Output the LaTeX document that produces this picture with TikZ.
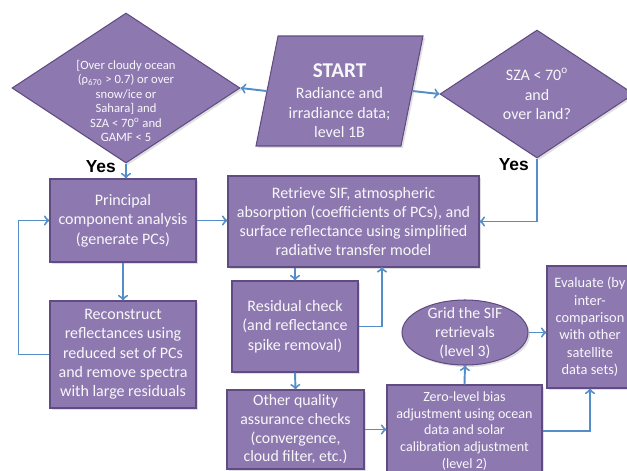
\documentclass[tikz,border=0pt]{standalone}
\usepackage{fontspec}
\setmainfont{Carlito}
\newfontfamily\yesfont{Liberation Sans}
\usetikzlibrary{arrows,shadows,shapes.geometric}

\definecolor{boxfill}{RGB}{141,121,176}
\definecolor{boxline}{RGB}{96,76,130}
\definecolor{flowline}{RGB}{84,141,200}
\colorlet{boxtext}{white!94!boxfill}

\tikzset{
  shade/.style={drop shadow={shadow xshift=0.4mm, shadow yshift=-0.4mm, opacity=0.25}},
  stepbox/.style={rectangle, draw=boxline, fill=boxfill, line width=0.6pt, shade,
    text=boxtext, align=center, inner sep=0pt, font=\fontsize{9.1}{11}\selectfont},
  decision/.style={diamond, draw=boxline, fill=boxfill, line width=0.6pt, shade,
    inner sep=0pt, text=boxtext, align=center, font=\fontsize{9.1}{11}\selectfont},
  flow/.style={->, draw=flowline, line width=1.1pt},
  yes/.style={font=\yesfont\bfseries\fontsize{9.9}{11}\selectfont},
}

\begin{document}
\begin{tikzpicture}[x=0.02cm, y=-0.02cm]
  \useasboundingbox (0,0) rectangle (627,471);

  % start and the two tests
  \node[stepbox, trapezium, trapezium left angle=76.7, trapezium right angle=103.3,
    trapezium stretches body, minimum width=3.34cm, minimum height=2.2cm]
    (start) at (339.5,91)
    {{\fontsize{12}{14}\selectfont\bfseries\rule{0pt}{19pt}START}\\[1pt]Radiance and\\irradiance data;\\level 1B};
  \node[decision, minimum width=4.56cm, minimum height=3cm] (cloud) at (126,88) {};
  \node[text=boxtext, align=center, font=\fontsize{7.2}{8.3}\selectfont] (cloudtxt) at (126,101)
    {[Over cloudy ocean\\(ρ\textsubscript{670} > 0.7) or over\\snow/ice or\\Sahara] and\\SZA < 70\textsuperscript{o} and\\GAMF < 5};
  \node[decision, minimum width=3.88cm, minimum height=2.56cm] (land) at (537,94)
    {SZA < 70\textsuperscript{o}\\and\\over land?};
  \node[yes, anchor=east] (yesl) at (122,167) {Yes};
  \node[yes, anchor=east] (yesr) at (535,165) {Yes};

  % processing steps
  \node[stepbox, minimum width=2.92cm, minimum height=1.66cm] (pca) at (123,220.5)
    {Principal\\component analysis\\(generate PCs)};
  \node[stepbox, minimum width=5.02cm, minimum height=1.82cm] (retrieve) at (353.5,221.5)
    {Retrieve SIF, atmospheric\\absorption (coefficients of PCs), and\\surface reflectance using simplified\\radiative transfer model};
  \node[stepbox, minimum width=2.92cm, minimum height=2.14cm] (recon) at (123,354.5)
    {Reconstruct\\reflectances using\\reduced set of PCs\\and remove spectra\\with large residuals};
  \node[stepbox, minimum width=2.52cm, minimum height=1.82cm] (resid) at (295,326.5)
    {Residual check\\(and reflectance\\spike removal)};
  \node[stepbox, minimum width=2.74cm, minimum height=1.58cm, font=\fontsize{9}{10.6}\selectfont]
    (other) at (295.5,429.5)
    {Other quality\\assurance checks\\(convergence,\\cloud filter, etc.)};
  \node[stepbox, minimum width=3.1cm, minimum height=1.84cm, font=\fontsize{8}{9.6}\selectfont]
    (zero) at (464.5,431)
    {Zero-level bias\\adjustment using ocean\\data and solar\\calibration adjustment\\(level 2)};
  \node[stepbox, ellipse, minimum width=2.52cm, minimum height=1.3cm] (grid) at (465,332.5) {};
  \node[text=boxtext, align=center, font=\fontsize{9}{11}\selectfont] (gridtxt) at (465,333)
    {Grid the SIF\\retrievals\\(level 3)};
  \node[stepbox, minimum width=1.72cm, minimum height=2.44cm, font=\fontsize{8.2}{9.9}\selectfont]
    (eval) at (590,327)
    {Evaluate (by\\inter-\\comparison\\with other\\satellite\\data sets)};

  \coordinate (rj) at (382,267);

  % connectors
  \draw[flow] (start.west) -- (cloud.east);
  \draw[flow] (start.east) -- (land.west);
  \draw[flow] (cloud.south) -- (cloud.south |- pca.north);
  \draw[flow] (land.south) |- (retrieve.east);
  \draw[flow] (pca.east) -- (pca.east -| retrieve.west);
  \draw[flow] (pca.south) -- (recon.north);
  \draw[flow] (recon.west) -- ++(-31,0) |- (pca.west);
  \draw[flow] (resid.north |- retrieve.south) -- (resid.north);
  \draw[flow] (resid.east) -| (rj);
  \draw[flow] (resid.south) -- (other.north);
  \draw[flow] (other.east) -- (other.east -| zero.west);
  \draw[flow] (zero.north) -- (grid.south);
  \draw[flow] (grid.east) -- (grid.east -| eval.west);
  \draw[flow] (zero.east) -| (eval.south);
\end{tikzpicture}
\end{document}
